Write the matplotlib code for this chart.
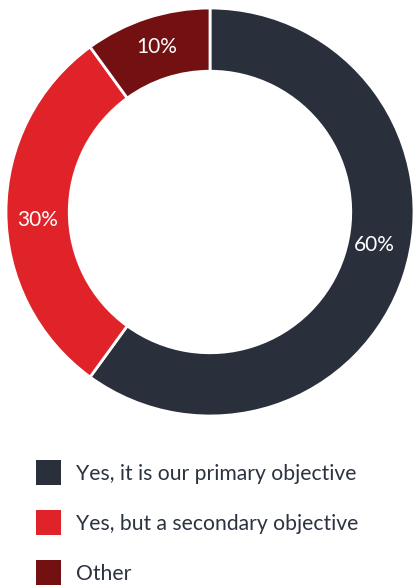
import matplotlib
matplotlib.use("Agg")
import matplotlib.pyplot as plt
from matplotlib.patches import Rectangle

labels = ["Yes, it is our primary objective", "Yes, but a secondary objective", "Other"]
values = [60, 30, 10]
colors = ["#29303c", "#e02328", "#731012"]

plt.rcParams["font.family"] = ["Lato", "DejaVu Sans"]

W, H, DPI = 413, 586, 100
fig = plt.figure(figsize=(W / DPI, H / DPI), dpi=DPI)

# donut: centre (210, 212) px from top-left, outer radius 204 px
R = 204
cx, cy = 210, 212
ax = fig.add_axes([(cx - R) / W, (H - cy - R) / H, 2 * R / W, 2 * R / H])
wedges, texts, autotexts = ax.pie(
    values, colors=colors, startangle=90, counterclock=False, radius=1,
    autopct=lambda p: f"{p:.0f}%", pctdistance=0.845,
    wedgeprops=dict(width=0.31, edgecolor="white", linewidth=2),
    textprops=dict(color="white", fontsize=15),
)
# small vertical nudges (in px, up positive) for the percentage labels
label_nudge_px = [20, -8, 1]
for t, dy in zip(autotexts, label_nudge_px):
    x, y = t.get_position()
    t.set_position((x, y + dy / R))
ax.set_xlim(-1, 1)
ax.set_ylim(-1, 1)
ax.set_aspect("equal")

# legend drawn in a pixel-space axes below the donut
lax = fig.add_axes([0, 0, 1, 150 / H])
lax.set_xlim(0, W)
lax.set_ylim(586, 436)
lax.axis("off")
row_top, row_pitch, box = 460, 50, 25
for i, (lab, col) in enumerate(zip(labels, colors)):
    top = row_top + i * row_pitch
    lax.add_patch(Rectangle((36, top), box, box, facecolor=col, edgecolor="none"))
    lax.text(76, top + 19.5, lab, fontsize=15.2, color="#2b3240",
             ha="left", va="baseline")

fig.savefig("out.png", dpi=DPI)
